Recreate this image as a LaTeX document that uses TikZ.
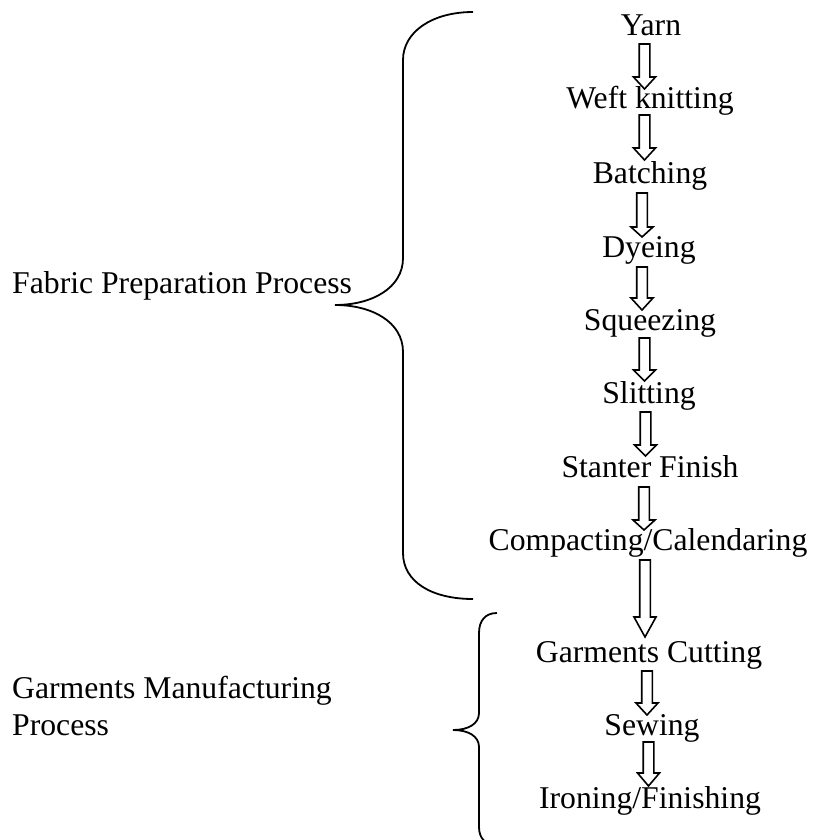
\documentclass[tikz,border=0pt]{standalone}
\usepackage{fontspec}
\setmainfont{Liberation Serif}
\usetikzlibrary{calc}
\tikzset{
  lbl/.style={anchor=base, inner sep=0pt, font=\fontsize{31.7}{38}\selectfont},
  side/.style={anchor=base west, inner sep=0pt, font=\fontsize{31.7}{38}\selectfont},
  blk/.style={draw=black, line width=1.6pt, fill=white, line join=miter},
  brace/.style={draw=black, line width=1.8pt}
}
% #1 from node, #2 to node, #3 x centre, #4 top offset, #5 tip offset, #6 head length
\newcommand\barrow[6]{%
  \draw[blk] let \p1=(#1.base), \p2=(#2.base) in
    (#3pt-5.3pt,\y1-#4pt) -- (#3pt+5.3pt,\y1-#4pt)
    -- (#3pt+5.3pt,\y2+#5pt+#6pt) -- (#3pt+11pt,\y2+#5pt+#6pt)
    -- (#3pt,\y2+#5pt) -- (#3pt-11pt,\y2+#5pt+#6pt)
    -- (#3pt-5.3pt,\y2+#5pt+#6pt) -- cycle;}
\begin{document}
\begin{tikzpicture}[x=1pt,y=-1pt]
\useasboundingbox (0,0) rectangle (812,840);
% process steps
\node[lbl] (yarn)    at (651,36)  {Yarn};
\node[lbl] (weft)    at (650,109) {Weft knitting};
\node[lbl] (batch)   at (650,183) {Batching};
\node[lbl] (dye)     at (649,257) {Dyeing};
\node[lbl] (squeeze) at (650,330) {Squeezing};
\node[lbl] (slit)    at (649,403) {Slitting};
\node[lbl] (stanter) at (650,477) {Stanter Finish};
\node[lbl] (compact) at (648,550) {Compacting/Calendaring};
\node[lbl] (cut)     at (649,662) {Garments Cutting};
\node[lbl] (sew)     at (652,735) {Sewing};
\node[lbl] (iron)    at (650,808) {Ironing/Finishing};
% side labels
\node[side] (fabric) at (12,293) {Fabric Preparation Process};
\node[side] (garm)   at (12,698) {Garments Manufacturing};
\node[side] (proc)   at (12,735) {Process};
% block arrows
\barrow{yarn}{weft}{644.5}{8}{20}{12}
\barrow{weft}{batch}{644.5}{6}{23}{12}
\barrow{batch}{dye}{642}{10}{20}{10}
\barrow{dye}{squeeze}{642}{10}{20}{12}
\barrow{squeeze}{slit}{644.5}{8}{22}{11}
\barrow{slit}{stanter}{645.5}{9}{21}{11}
\barrow{stanter}{compact}{644}{10}{20}{10}
\barrow{compact}{cut}{645}{10}{25}{20}
\barrow{cut}{sew}{647}{9}{20}{12}
\barrow{sew}{iron}{648.5}{7}{22}{13}
% braces
\draw[brace] (473,12) .. controls (432,12) and (403,32) .. (403,60)
  -- (403,258) .. controls (403,288) and (372,305) .. (335,305)
  .. controls (372,305) and (403,322) .. (403,352)
  -- (403,553) .. controls (403,582) and (432,599) .. (473,599);
\draw[brace] (497,613) .. controls (485,613) and (479,621) .. (479,633)
  -- (479,713) .. controls (479,724) and (468,730) .. (453,730)
  .. controls (468,730) and (479,736) .. (479,747)
  -- (479,827) .. controls (479,838) and (485,845) .. (497,845);
\end{tikzpicture}
\end{document}
